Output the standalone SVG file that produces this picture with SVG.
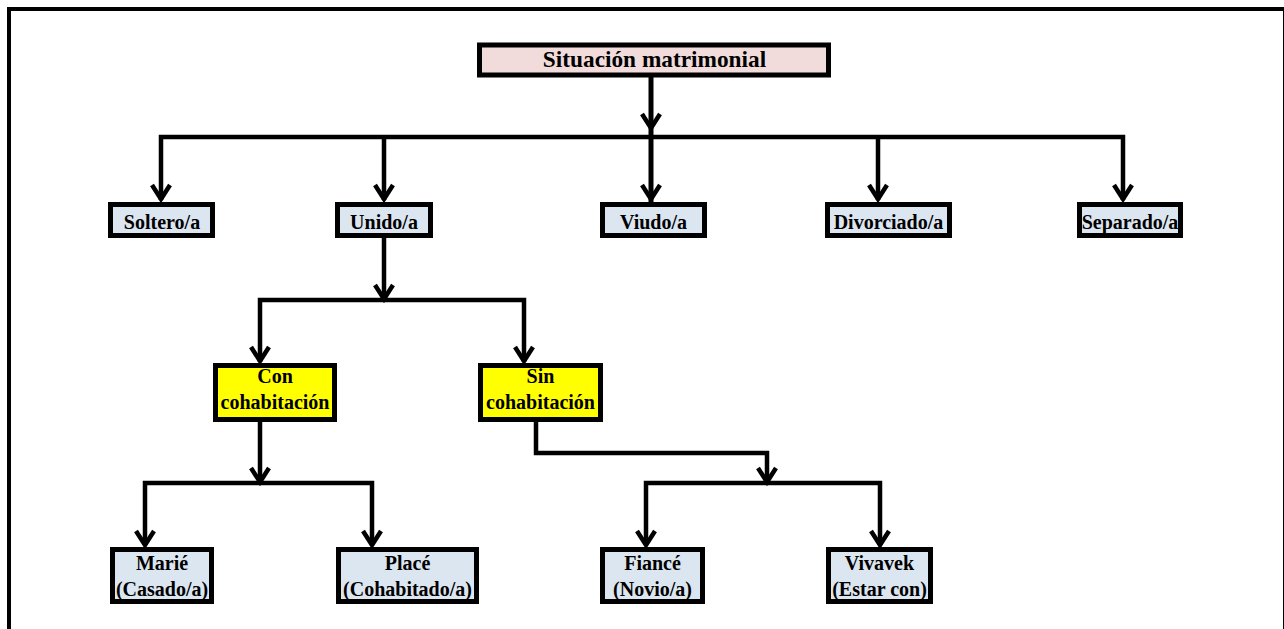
<svg xmlns="http://www.w3.org/2000/svg" xmlns:xlink="http://www.w3.org/1999/xlink" width="1284" height="629" viewBox="0 0 1284 629">
<style>
.box{stroke:#000;stroke-width:5}
.blue{fill:#dce6f1}
.pink{fill:#f2dcdb}
.yel{fill:#ffff00}
.t{font-family:"Liberation Serif","Times New Roman",serif;font-weight:bold;font-size:20px;fill:#000;text-anchor:middle}
.c{fill:none;stroke:#000;stroke-width:4.5}
</style>
<defs>
<path id="ah" d="M-9,-14 L0,0 L9,-14" fill="none" stroke="#000" stroke-width="4.5"/>
</defs>
<rect x="0" y="0" width="1284" height="629" fill="#fff"/>
<rect x="9" y="9" width="1276" height="700" fill="none" stroke="#000" stroke-width="4"/>
<g id="connectors">
<path class="c" d="M651,77 V202" style="stroke-width:5"/>
<use xlink:href="#ah" x="651" y="128"/>
<path class="c" d="M161,200 V137 H1123 V200"/>
<path class="c" d="M384,137 V200 M878,137 V200"/>
<use xlink:href="#ah" x="161" y="199"/>
<use xlink:href="#ah" x="384" y="199"/>
<use xlink:href="#ah" x="651" y="199"/>
<use xlink:href="#ah" x="878" y="199"/>
<use xlink:href="#ah" x="1123" y="199"/>
<path class="c" d="M384,238 V300"/>
<use xlink:href="#ah" x="384" y="299"/>
<path class="c" d="M260,362 V300 H524 V362"/>
<use xlink:href="#ah" x="260" y="361"/>
<use xlink:href="#ah" x="524" y="361"/>
<path class="c" d="M260,422 V483"/>
<use xlink:href="#ah" x="260" y="482"/>
<path class="c" d="M145,545 V483 H372 V545"/>
<use xlink:href="#ah" x="145" y="545"/>
<use xlink:href="#ah" x="372" y="545"/>
<path class="c" d="M536,422 V453 H767 V483"/>
<use xlink:href="#ah" x="767" y="482"/>
<path class="c" d="M646,545 V483 H880 V545"/>
<use xlink:href="#ah" x="646" y="545"/>
<use xlink:href="#ah" x="880" y="545"/>
</g>
<g id="n-title">
<rect class="box pink" x="479.5" y="45" width="349" height="30"/>
<text class="t" x="654.5" y="67" style="font-size:23.3px">Situación matrimonial</text>
</g>
<g id="n-soltero">
<rect class="box blue" x="110.5" y="204.5" width="102" height="31"/>
<text class="t" x="162" y="229">Soltero/a</text>
</g>
<g id="n-unido">
<rect class="box blue" x="337.5" y="204.5" width="93" height="31"/>
<text class="t" x="384" y="229">Unido/a</text>
</g>
<g id="n-viudo">
<rect class="box blue" x="602.5" y="204.5" width="102" height="31"/>
<text class="t" x="653.5" y="229">Viudo/a</text>
</g>
<g id="n-divorciado">
<rect class="box blue" x="827.5" y="204.5" width="122" height="31"/>
<text class="t" x="888.5" y="229">Divorciado/a</text>
</g>
<g id="n-separado">
<rect class="box blue" x="1079.5" y="204.5" width="101" height="31"/>
<text class="t" x="1130" y="229">Separado/a</text>
</g>
<g id="n-con">
<rect class="box yel" x="215.5" y="365.5" width="119" height="54"/>
<text class="t" x="275" y="383">Con</text>
<text class="t" x="275" y="409">cohabitación</text>
</g>
<g id="n-sin">
<rect class="box yel" x="480.5" y="365.5" width="120" height="54"/>
<text class="t" x="540.5" y="383">Sin</text>
<text class="t" x="540.5" y="409">cohabitación</text>
</g>
<g id="n-marie">
<rect class="box blue" x="112.5" y="549.5" width="99" height="52"/>
<text class="t" x="162" y="570">Marié</text>
<text class="t" x="162" y="596">(Casado/a)</text>
</g>
<g id="n-place">
<rect class="box blue" x="338.5" y="549.5" width="138" height="52"/>
<text class="t" x="407.5" y="570">Placé</text>
<text class="t" x="407.5" y="596">(Cohabitado/a)</text>
</g>
<g id="n-fiance">
<rect class="box blue" x="602.5" y="549.5" width="100" height="52"/>
<text class="t" x="652.5" y="570">Fiancé</text>
<text class="t" x="652.5" y="596">(Novio/a)</text>
</g>
<g id="n-vivavek">
<rect class="box blue" x="828.5" y="549.5" width="102" height="52"/>
<text class="t" x="879.5" y="570">Vivavek</text>
<text class="t" x="879.5" y="596">(Estar con)</text>
</g>
</svg>
